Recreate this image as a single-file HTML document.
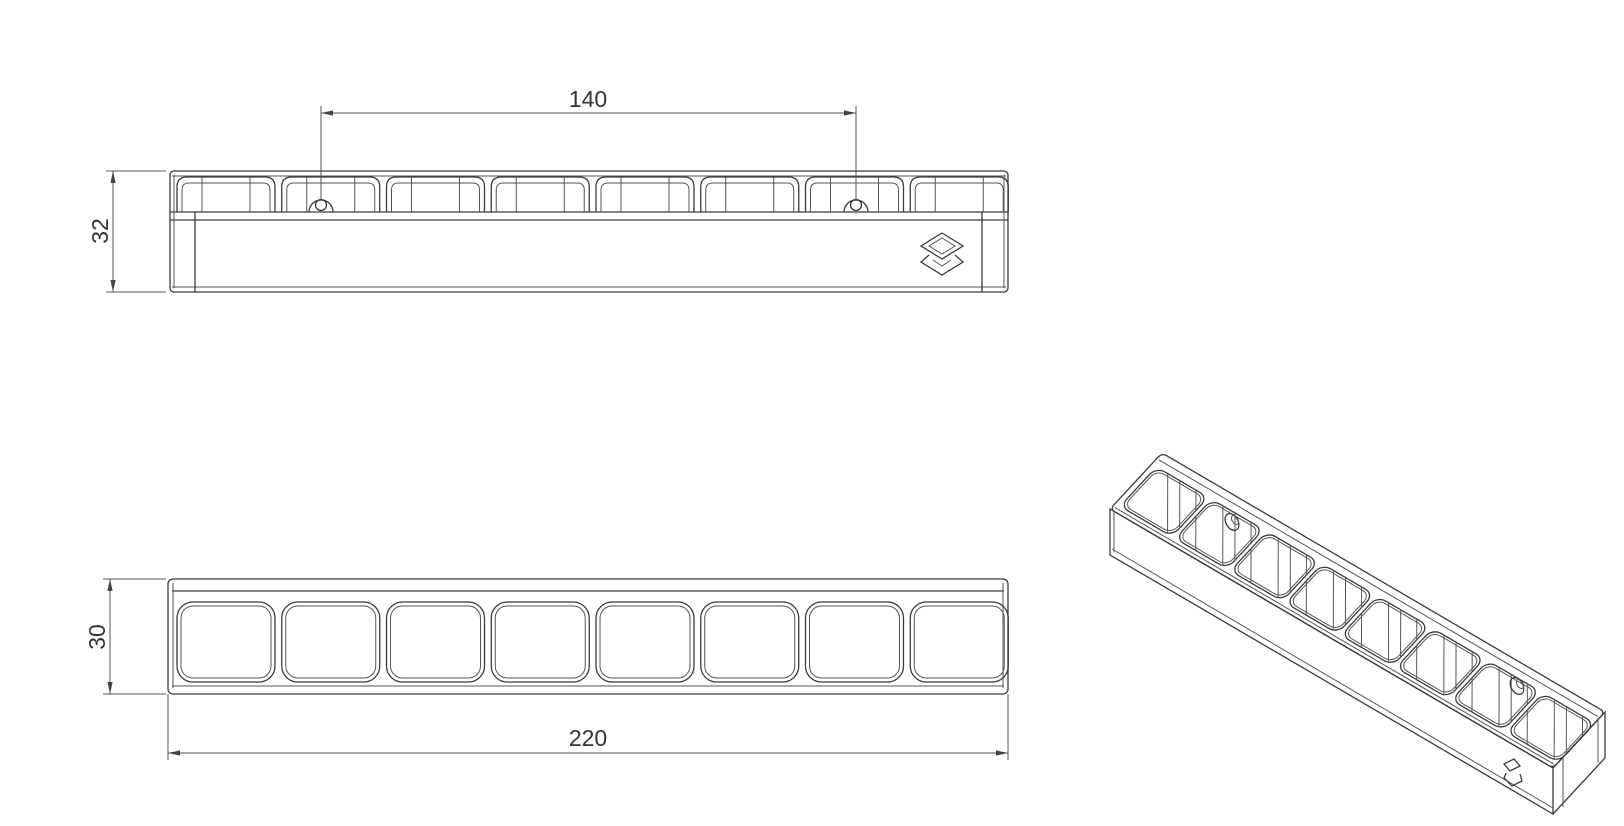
<!DOCTYPE html>
<html><head><meta charset="utf-8"><style>
html,body{margin:0;padding:0;background:#fff;}
svg{display:block;}
text{font-family:"Liberation Sans",sans-serif;font-size:23px;fill:#333;}
.l{fill:none;stroke:#3a3a3a;stroke-width:1.3;}
.t{fill:none;stroke:#555;stroke-width:1;}
.n{vector-effect:non-scaling-stroke;}
</style></head><body>
<svg width="1624" height="826" viewBox="0 0 1624 826" xmlns="http://www.w3.org/2000/svg">
<defs>
<g id="fc">
 <path class="l" d="M0 212 V187 Q0 177 10 177 H88 Q98 177 98 187 V212"/>
 <path class="t" d="M5 212 V190 Q5 183 12 183 H86 Q93 183 93 190 V212"/>
 <line class="t" x1="25" y1="177" x2="25" y2="212"/>
 <line class="t" x1="73" y1="177" x2="73" y2="212"/>
</g>
<g id="tc">
 <rect class="l" x="0" y="602" width="98" height="80" rx="16"/>
 <rect class="t" x="4" y="606" width="90" height="72" rx="12"/>
</g>
<path id="ah" d="M0 0 L12 -2.6 L12 2.6 Z" fill="#444"/>
</defs>

<!-- ===== FRONT VIEW ===== -->
<rect class="l" x="170" y="171" width="838" height="121" rx="4"/>
<line class="t" x1="172" y1="176" x2="1006" y2="176"/>
<line class="l" x1="170" y1="212" x2="1008" y2="212"/>
<line class="l" x1="170" y1="220" x2="1008" y2="220"/>
<line class="t" x1="172" y1="287" x2="1006" y2="287"/>
<line class="l" x1="195" y1="212" x2="195" y2="292"/>
<line class="l" x1="982" y1="212" x2="982" y2="292"/>
<line class="t" x1="1004" y1="175" x2="1004" y2="288"/>
<line class="t" x1="174" y1="175" x2="174" y2="288"/>
<use href="#fc" x="177"/><use href="#fc" x="281.75"/><use href="#fc" x="386.5"/><use href="#fc" x="491.25"/>
<use href="#fc" x="596"/><use href="#fc" x="700.75"/><use href="#fc" x="805.5"/><use href="#fc" x="910.25"/>
<circle class="l" cx="321" cy="205" r="5.5"/>
<path class="l" d="M309 212 A12 12 0 1 1 333 212"/>
<circle class="l" cx="856" cy="205" r="5.5"/>
<path class="l" d="M844 212 A12 12 0 1 1 868 212"/>
<!-- logo -->
<path class="l" d="M942 233 L963 246 L942 259 L921 246 Z"/>
<path class="t" d="M942 238 L955 246 L942 254 L929 246 Z"/>
<path class="l" d="M929 255 L921 262 L942 275 L963 262 L955 255"/>
<path class="t" d="M933 260 L942 266 L951 260"/>

<!-- dim 32 -->
<line class="t" x1="106" y1="171" x2="166" y2="171"/>
<line class="t" x1="106" y1="292" x2="166" y2="292"/>
<line class="t" x1="113" y1="171" x2="113" y2="292"/>
<use href="#ah" transform="translate(113,171) rotate(90)"/>
<use href="#ah" transform="translate(113,292) rotate(-90)"/>
<text x="0" y="0" text-anchor="middle" transform="translate(108,231) rotate(-90)">32</text>
<!-- dim 140 -->
<line class="t" x1="321" y1="106" x2="321" y2="200"/>
<line class="t" x1="856" y1="106" x2="856" y2="200"/>
<line class="t" x1="321" y1="113" x2="856" y2="113"/>
<use href="#ah" transform="translate(321,113)"/>
<use href="#ah" transform="translate(856,113) rotate(180)"/>
<text x="588" y="107" text-anchor="middle">140</text>

<!-- ===== TOP VIEW ===== -->
<rect class="l" x="168" y="579" width="840" height="115" rx="5"/>
<line class="l" x1="172" y1="591" x2="1004" y2="591"/>
<line class="t" x1="172" y1="686" x2="1004" y2="686"/>
<line class="t" x1="173" y1="583" x2="173" y2="688"/>
<line class="t" x1="1003" y1="583" x2="1003" y2="688"/>
<use href="#tc" x="177"/><use href="#tc" x="281.75"/><use href="#tc" x="386.5"/><use href="#tc" x="491.25"/>
<use href="#tc" x="596"/><use href="#tc" x="700.75"/><use href="#tc" x="805.5"/><use href="#tc" x="910.25"/>
<!-- dim 30 -->
<line class="t" x1="103" y1="579" x2="166" y2="579"/>
<line class="t" x1="103" y1="694" x2="166" y2="694"/>
<line class="t" x1="110" y1="579" x2="110" y2="694"/>
<use href="#ah" transform="translate(110,579) rotate(90)"/>
<use href="#ah" transform="translate(110,694) rotate(-90)"/>
<text x="0" y="0" text-anchor="middle" transform="translate(105,637) rotate(-90)">30</text>
<!-- dim 220 -->
<line class="t" x1="168" y1="694" x2="168" y2="760"/>
<line class="t" x1="1008" y1="694" x2="1008" y2="760"/>
<line class="t" x1="168" y1="753" x2="1008" y2="753"/>
<use href="#ah" transform="translate(168,753)"/>
<use href="#ah" transform="translate(1008,753) rotate(180)"/>
<text x="588" y="746" text-anchor="middle">220</text>

<!-- ===== ISOMETRIC ===== -->
<path class="l" d="M1110 509 L1553 768 L1553 814 L1110 555 Z"/>
<path class="t" d="M1112 549 L1553 808"/>
<path class="t" d="M1114 512 L1114 552"/>
<path class="l" d="M1553 768 L1605 712 L1605 758 L1553 814"/>
<line class="t" x1="1563" y1="758" x2="1563" y2="807"/>
<line class="t" x1="1598" y1="720" x2="1598" y2="763"/>
<g transform="matrix(2.0136,1.1773,-1.733,1.867,1162,453)">
 <defs>
  <clipPath id="cc">
   <rect x="2.4" y="6" width="25.7" height="21" rx="4"/>
   <rect x="29.83" y="6" width="25.7" height="21" rx="4"/>
   <rect x="57.26" y="6" width="25.7" height="21" rx="4"/>
   <rect x="84.69" y="6" width="25.7" height="21" rx="4"/>
   <rect x="112.12" y="6" width="25.7" height="21" rx="4"/>
   <rect x="139.55" y="6" width="25.7" height="21" rx="4"/>
   <rect x="166.98" y="6" width="25.7" height="21" rx="4"/>
   <rect x="194.41" y="6" width="25.7" height="21" rx="4"/>
  </clipPath>
 </defs>
 <rect class="l n" x="0" y="0" width="220" height="30" rx="2"/>
 <line class="t n" x1="1" y1="3" x2="219" y2="3"/>
 <line class="t n" x1="1" y1="28.5" x2="219" y2="28.5"/>
 <g class="l n">
  <rect class="l n" x="2.4" y="6" width="25.7" height="21" rx="4"/>
  <rect class="l n" x="29.83" y="6" width="25.7" height="21" rx="4"/>
  <rect class="l n" x="57.26" y="6" width="25.7" height="21" rx="4"/>
  <rect class="l n" x="84.69" y="6" width="25.7" height="21" rx="4"/>
  <rect class="l n" x="112.12" y="6" width="25.7" height="21" rx="4"/>
  <rect class="l n" x="139.55" y="6" width="25.7" height="21" rx="4"/>
  <rect class="l n" x="166.98" y="6" width="25.7" height="21" rx="4"/>
  <rect class="l n" x="194.41" y="6" width="25.7" height="21" rx="4"/>
  <rect class="t n" x="3.4" y="7" width="23.7" height="19" rx="3.5"/>
  <rect class="t n" x="30.83" y="7" width="23.7" height="19" rx="3.5"/>
  <rect class="t n" x="58.26" y="7" width="23.7" height="19" rx="3.5"/>
  <rect class="t n" x="85.69" y="7" width="23.7" height="19" rx="3.5"/>
  <rect class="t n" x="113.12" y="7" width="23.7" height="19" rx="3.5"/>
  <rect class="t n" x="140.55" y="7" width="23.7" height="19" rx="3.5"/>
  <rect class="t n" x="167.98" y="7" width="23.7" height="19" rx="3.5"/>
  <rect class="t n" x="195.41" y="7" width="23.7" height="19" rx="3.5"/>
 </g>
 <g clip-path="url(#cc)">
  <path class="t n" d="
  M8 6 l18 21 M14 6 l18 21 M22 6 l18 21
  M35.4 6 l18 21 M41.4 6 l18 21 M49.4 6 l18 21
  M62.9 6 l18 21 M68.9 6 l18 21 M76.9 6 l18 21
  M90.3 6 l18 21 M96.3 6 l18 21 M104.3 6 l18 21
  M117.7 6 l18 21 M123.7 6 l18 21 M131.7 6 l18 21
  M145.2 6 l18 21 M151.2 6 l18 21 M159.2 6 l18 21
  M172.6 6 l18 21 M178.6 6 l18 21 M186.6 6 l18 21
  M200 6 l18 21 M206 6 l18 21 M214 6 l18 21"/>
 </g>
</g>
<ellipse class="l" cx="1232" cy="522" rx="6" ry="9" transform="rotate(-30 1232 522)"/>
<ellipse class="t" cx="1235" cy="520" rx="3" ry="5" transform="rotate(-30 1235 520)"/>
<ellipse class="l" cx="1517" cy="686" rx="6" ry="9" transform="rotate(-30 1517 686)"/>
<ellipse class="t" cx="1520" cy="684" rx="3" ry="5" transform="rotate(-30 1520 684)"/>
<!-- iso logo -->
<path class="l" d="M1504 764 L1514 759 L1520 766 L1510 771 Z"/>
<path class="l" d="M1506 773 L1504 778 L1512 786 L1522 781 L1520 774"/>
</svg>
</body></html>
